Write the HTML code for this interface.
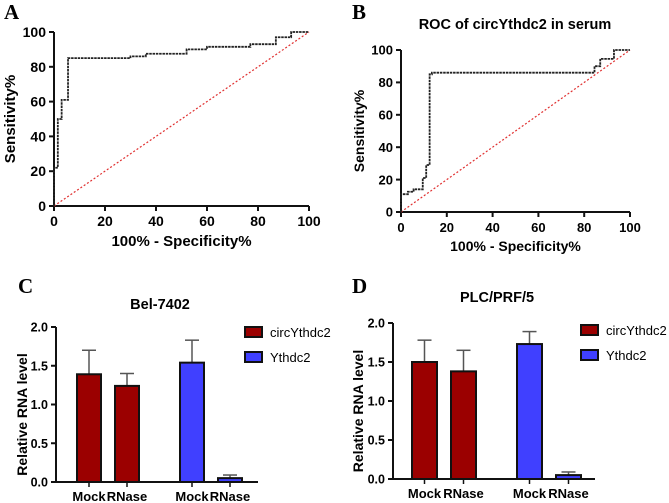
<!DOCTYPE html>
<html><head><meta charset="utf-8"><style>
body{margin:0;background:#fff}
svg{display:block;font-family:"Liberation Sans",Arial,sans-serif;font-weight:bold}
.lt{font-family:"Liberation Serif",serif;font-size:21px;font-weight:bold}
</style></head><body>
<svg id="c" width="669" height="503" xmlns="http://www.w3.org/2000/svg"></svg>
<script>
const rocAx=[0,0,1.5,1.5,3,3,5.5,5.5,30,30,36,36,52,52,60,60,77,77,87,87,93,93,100];
const rocAy=[0,22,22,50,50,61,61,85,85,86,86,87.5,87.5,90,90,91.5,91.5,93,93,97,97,100,100];
const rocBx=[0,0,3,3,5.5,5.5,9.5,9.5,11,11,12.5,12.5,13.5,13.5,84.5,84.5,87,87,93,93,100];
const rocBy=[0,11,11,12.5,12.5,14,14,21,21,29,29,85,85,86,86,90,90,94.5,94.5,100,100];
const rocTicks=[0,20,40,60,80,100];
const barCats=["Mock","RNase","Mock","RNase"];
const barCVals=[1.39,1.24,1.54,0.05];
const barCErr=[0.31,0.16,0.29,0.04];
const barDVals=[1.50,1.38,1.73,0.05];
const barDErr=[0.28,0.27,0.16,0.04];
const barTicks=[0,0.5,1.0,1.5,2.0];
const legendLabels=["circYthdc2","Ythdc2"];
const svg=document.getElementById('c');
const NS="http://www.w3.org/2000/svg";
function mk(t,a,txt,parent){const e=document.createElementNS(NS,t);for(const k in a)e.setAttribute(k,a[k]);if(txt!=null)e.textContent=txt;(parent||svg).appendChild(e);return e;}

function roc(P,xs,ys,name){
  const g=mk('g',{});
  
  
  const sx=v=>P.x0+(P.x1-P.x0)*v/100, sy=v=>P.y0-(P.y0-P.y1)*v/100;
  const ax=mk('path',{d:`M${P.x0},${P.y1}V${P.y0}H${P.x1}`,stroke:'#111','stroke-width':2,fill:'none'},null,g);
  
  
  rocTicks.forEach(t=>{
    mk('line',{x1:sx(t),x2:sx(t),y1:P.y0,y2:P.y0+5,stroke:'#111','stroke-width':2},null,g);
    mk('line',{x1:P.x0-5,x2:P.x0,y1:sy(t),y2:sy(t),stroke:'#111','stroke-width':2},null,g);
    const xl=mk('text',{x:sx(t),y:P.y0+20,'text-anchor':'middle','font-size':P.fs},t,g);
    
    
    const yl=mk('text',{x:P.x0-8,y:sy(t)+P.fs*0.36,'text-anchor':'end','font-size':P.fs},t,g);
    
    
  });
  const d=mk('line',{x1:sx(0),y1:sy(0),x2:sx(100),y2:sy(100),stroke:'#e03030','stroke-width':1.2,'stroke-dasharray':'2 2'},null,g);
  
  
  let p='';xs.forEach((x,i)=>{p+=(i?'L':'M')+sx(x)+','+sy(ys[i]);});
  const c=mk('path',{d:p,stroke:'#222','stroke-width':1.8,fill:'none','stroke-dasharray':'2.5 0.8'},null,g);
  
  
  const xt=mk('text',{x:(P.x0+P.x1)/2,y:P.xty,'text-anchor':'middle','font-size':P.fs+1},'100% - Specificity%',g);
  
  
  const yt=mk('text',{transform:`translate(${P.ytx},${(P.y0+P.y1)/2}) rotate(-90)`,'text-anchor':'middle','font-size':P.fs+1},'Sensitivity%',g);
  
  
}

function bars(P,vals,errs,name){
  const g=mk('g',{});
  
  
  const sy=v=>P.y0-(P.y0-P.y1)*v/2;
  const cols=['#9b0000','#9b0000','#4040ff','#4040ff'];
  vals.forEach((v,i)=>{
    const x=P.bx[i],cx=x+P.bw/2;
    const el=mk('line',{x1:cx,x2:cx,y1:sy(v),y2:sy(v+errs[i]),stroke:'#555','stroke-width':1.5},null,g);
    
    
    mk('line',{x1:cx-7,x2:cx+7,y1:sy(v+errs[i]),y2:sy(v+errs[i]),stroke:'#555','stroke-width':1.5},null,g);
    const r=mk('rect',{x:x,y:sy(v),width:P.bw,height:P.y0-sy(v),fill:cols[i],stroke:'#111','stroke-width':2},null,g);
    
    
    const cl=mk('text',{x:cx,y:P.y0+19,'text-anchor':'middle','font-size':13},barCats[i],g);
    
    
    mk('line',{x1:cx,x2:cx,y1:P.y0,y2:P.y0+5,stroke:'#111','stroke-width':1.5},null,g);
  });
  const ax=mk('path',{d:`M${P.x0},${P.y1}V${P.y0}H${P.x1}`,stroke:'#111','stroke-width':2,fill:'none'},null,g);
  
  
  barTicks.forEach(t=>{
    mk('line',{x1:P.x0-5,x2:P.x0,y1:sy(t),y2:sy(t),stroke:'#111','stroke-width':2},null,g);
    const yl=mk('text',{x:P.x0-8,y:sy(t)+4.5,'text-anchor':'end','font-size':12.5},t.toFixed(1),g);
    
    
  });
  const yt=mk('text',{transform:`translate(${P.ytx},${(P.y0+P.y1)/2+10}) rotate(-90)`,'text-anchor':'middle','font-size':14},'Relative RNA level',g);
  
  
  const tt=mk('text',{x:P.tx,y:P.ty,'text-anchor':'middle','font-size':14.5},P.title,g);
  
  
  legendLabels.forEach((l,i)=>{
    const sw=mk('rect',{x:P.lx,y:P.ly+i*25-5,width:17,height:10,fill:i?'#4040ff':'#9b0000',stroke:'#111','stroke-width':2},null,g);
    
    
    const lt=mk('text',{x:P.lx+25,y:P.ly+i*25+5,'font-size':13,'font-weight':'normal'},l,g);
    
    
  });
}

roc({x0:54,x1:309,y0:206,y1:32,fs:14,xty:246,ytx:15},rocAx,rocAy,'roc-chart-a');
roc({x0:401,x1:630,y0:212,y1:50,fs:13,xty:251,ytx:364},rocBx,rocBy,'roc-chart-b');
const bt=mk('text',{x:515,y:29,'text-anchor':'middle','font-size':14.5},'ROC of circYthdc2  in serum');


bars({x0:56,x1:258,y0:482,y1:327,bx:[77,115,180,218],bw:24,ytx:27,tx:160,ty:309,title:'Bel-7402',lx:245,ly:332},barCVals,barCErr,'bar-chart-c');
bars({x0:393,x1:595,y0:479,y1:323,bx:[412,451,517,556],bw:25,ytx:363,tx:497,ty:302,title:'PLC/PRF/5',lx:581,ly:330},barDVals,barDErr,'bar-chart-d');
[['A',4,19],['B',352,19],['C',18,293],['D',352,293]].forEach(a=>{
  const t=mk('text',{x:a[1],y:a[2],class:'lt'},a[0]);
  
  
});
</script>
</body></html>
